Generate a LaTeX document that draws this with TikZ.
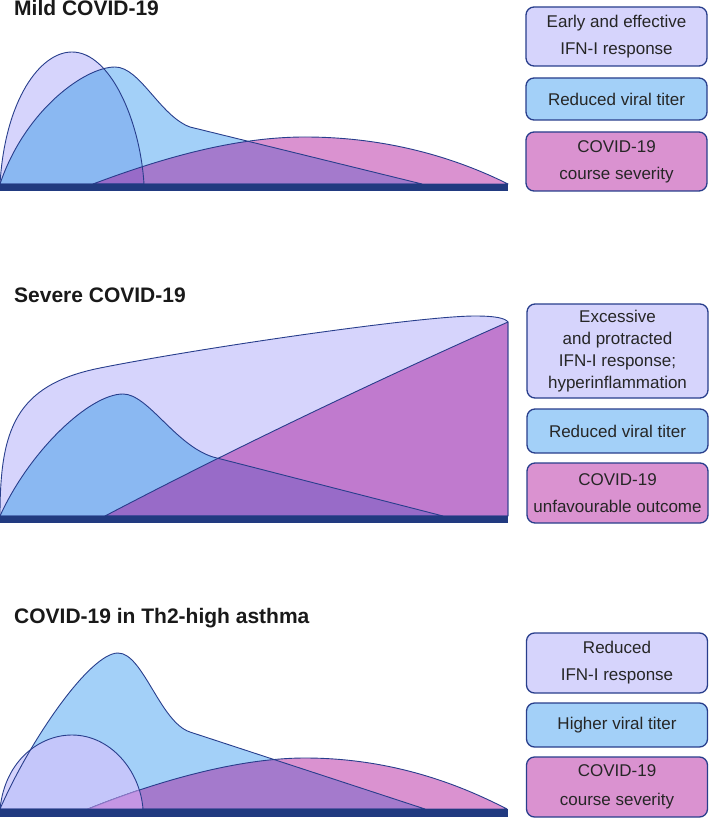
\documentclass[tikz,border=0pt]{standalone}
\usepackage{fontspec}
\setmainfont{Liberation Sans}
\definecolor{lav}{RGB}{214,212,252}
\definecolor{vir}{RGB}{163,208,248}
\definecolor{sev}{RGB}{218,146,208}
\definecolor{lavvir}{RGB}{138,184,242}
\definecolor{lavvirT}{RGB}{196,198,250}
\definecolor{virsev}{RGB}{164,122,204}
\definecolor{lavsev}{RGB}{192,122,206}
\definecolor{lvs}{RGB}{152,107,200}
\definecolor{lvsT}{RGB}{196,150,228}
\definecolor{barc}{RGB}{33,58,128}
\definecolor{edgec}{RGB}{40,62,140}
\tikzset{
  curve/.style={draw=edgec, line width=0.9pt, line join=round},
  ibox/.style={draw=edgec, line width=1.3pt, rounded corners=8pt, align=center,
    minimum width=181pt, inner sep=0pt, font=\fontsize{17}{27}\selectfont, text=black!85},
  ttl/.style={anchor=base west, inner sep=0pt, font=\fontsize{21}{25}\selectfont\bfseries, text=black!90},
}
% #1 lavender path, #2 viral path, #3 severity path, #4 lav+vir colour, #5 triple colour
\newcommand\mkpanel[5]{%
  \fill[lav] #1; \fill[vir] #2; \fill[sev] #3;
  \begin{scope}\clip #1; \fill[#4] #2; \end{scope}
  \begin{scope}\clip #2; \fill[virsev] #3; \end{scope}
  \begin{scope}\clip #1; \fill[lavsev] #3; \end{scope}
  \begin{scope}\clip #1; \clip #2; \fill[#5] #3; \end{scope}
}
\def\pIa{(0,184) .. controls (5,100) and (40,52) .. (72,52) .. controls (110,52) and (140,120) .. (144,184) -- cycle}
\def\pIb{(0,184) .. controls (25,110) and (85,67) .. (115,67) .. controls (140,67) and (160,116) .. (190,127) -- (422,184) -- cycle}
\def\pIc{(93,184) .. controls (170,155) and (240,137) .. (305,137) .. controls (400,137) and (470,165) .. (508,184) -- cycle}
\def\pIIa{(0,516) .. controls (0,430) and (15,385) .. (100,368) .. controls (200,348) and (420,316) .. (475,316) .. controls (495,316) and (505,318) .. (508,322) -- (508,516) -- cycle}
\def\pIIb{(0,516) .. controls (30,450) and (90,394) .. (123,394) .. controls (148,394) and (175,445) .. (213,457) -- (443,516) -- cycle}
\def\pIIc{(105,516) .. controls (250,440) and (400,370) .. (508,322) -- (508,516) -- cycle}
\def\pIIIa{(0,809) .. controls (5,760) and (40,735) .. (72,735) .. controls (110,735) and (140,770) .. (143,809) -- cycle}
\def\pIIIb{(0,809) .. controls (30,740) and (90,653) .. (118,653) .. controls (143,653) and (160,722) .. (190,732) -- (425,809) -- cycle}
\def\pIIIc{(88,809) .. controls (160,780) and (240,758) .. (305,758) .. controls (400,758) and (470,790) .. (507,809) -- cycle}
\begin{document}
\begin{tikzpicture}[x=1pt,y=-1pt]
\useasboundingbox (0,0) rectangle (709,818);
% ---------- panel 1
\node[ttl] (t1) at (14,16) {Mild COVID-19};
\mkpanel{\pIa}{\pIb}{\pIc}{lavvir}{lvs}
\draw[curve] \pIa;
\draw[curve] \pIb;
\draw[curve] \pIc;
\fill[barc] (0,184) rectangle (508,191);
\node[ibox, fill=lav, minimum height=59pt] (b11) at (616.5,36.5) {Early and effective\\IFN-I response};
\node[ibox, fill=vir, minimum height=42pt] (b12) at (616.5,99) {Reduced viral titer};
\node[ibox, fill=sev, minimum height=59pt] (b13) at (616.5,161.5) {COVID-19\\course severity};
% ---------- panel 2
\node[ttl] (t2) at (14,302) {Severe COVID-19};
\mkpanel{\pIIa}{\pIIb}{\pIIc}{lavvir}{lvs}
\draw[curve] \pIIa;
\draw[curve] \pIIb;
\draw[curve] \pIIc;
\fill[barc] (0,516) rectangle (508,523);
\node[ibox, fill=lav, minimum height=94pt, font=\fontsize{17}{22}\selectfont] (b21) at (617.5,351) {Excessive\\and protracted\\IFN-I response;\\hyperinflammation};
\node[ibox, fill=vir, minimum height=44pt] (b22) at (617.5,431) {Reduced viral titer};
\node[ibox, fill=sev, minimum height=60pt] (b23) at (617.5,493) {COVID-19\\unfavourable outcome};
% ---------- panel 3
\node[ttl] (t3) at (14,623) {COVID-19 in Th2-high asthma};
\mkpanel{\pIIIa}{\pIIIb}{\pIIIc}{lavvirT}{lvsT}
\draw[curve] \pIIIb;
\draw[curve] \pIIIc;
\begin{scope}\clip \pIIIa; \fill[lvsT] \pIIIc; \draw[curve, draw=edgec!35!lvsT] \pIIIc; \end{scope}
\draw[curve] \pIIIa;
\fill[barc] (0,809) rectangle (508,817);
\node[ibox, fill=lav, minimum height=60pt] (b31) at (617,663) {Reduced\\IFN-I response};
\node[ibox, fill=vir, minimum height=44pt] (b32) at (617,725) {Higher viral titer};
\node[ibox, fill=sev, minimum height=60pt, font=\fontsize{17}{29}\selectfont] (b33) at (617,787) {COVID-19\\course severity};
\end{tikzpicture}
\end{document}
